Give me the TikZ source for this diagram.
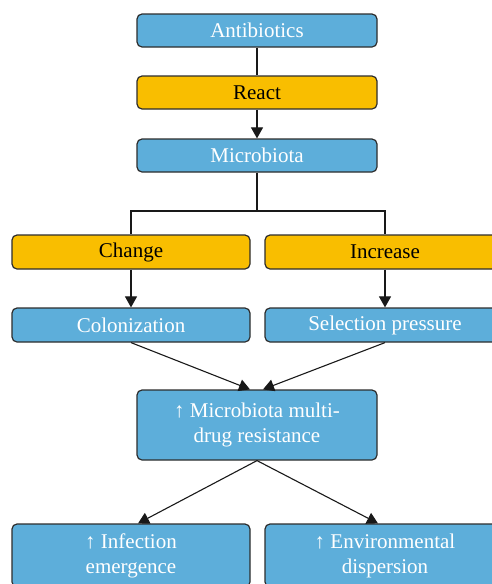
\documentclass[tikz,border=0pt]{standalone}
\usepackage{fontspec}
\setmainfont{Liberation Serif}
\usetikzlibrary{arrows.meta}
\definecolor{boxblue}{RGB}{93,174,218}
\definecolor{boxyellow}{RGB}{249,190,0}
\definecolor{edgegray}{RGB}{45,45,45}
\tikzset{
  basebox/.style={rectangle, rounded corners=5pt, draw=edgegray, line width=1.2pt,
    inner sep=0pt, align=center, font=\fontsize{21}{25}\selectfont},
  bluebox/.style={basebox, fill=boxblue, text=white},
  yellowbox/.style={basebox, fill=boxyellow, text=black},
  conn/.style={draw=black!90, line width=1.1pt},
  arr/.style={conn, -{Triangle[length=11pt,width=12pt]}}
}
\begin{document}
\begin{tikzpicture}[x=1pt,y=-1pt]
\useasboundingbox (0,0) rectangle (492,584);
\clip (0,0) rectangle (492,584);
\node[bluebox, minimum width=240pt, minimum height=33pt] (anti) at (257,30.5) {Antibiotics};
\node[yellowbox, minimum width=240pt, minimum height=33pt] (react) at (257,92.5) {React};
\node[bluebox, minimum width=240pt, minimum height=33pt] (micro) at (257,155.5) {Microbiota};
\node[yellowbox, minimum width=238pt, minimum height=34pt] (change) at (131,252) {Change};
\node[yellowbox, minimum width=240pt, minimum height=34pt] (incr) at (385,252) {Increase};
\node[bluebox, minimum width=238pt, minimum height=34pt] (colon) at (131,325) {Colonization};
\node[bluebox, minimum width=240pt, minimum height=34pt] (sel) at (385,325) {Selection pressure};
\node[bluebox, minimum width=240pt, minimum height=70pt] (mdr) at (257,425) {↑ Microbiota multi-\\drug resistance};
\node[bluebox, minimum width=238pt, minimum height=63pt] (inf) at (131,555.5) {↑ Infection\\emergence};
\node[bluebox, minimum width=240pt, minimum height=63pt] (env) at (385,555.5) {↑ Environmental\\dispersion};
\coordinate (split) at (257,211);
\draw[conn] (anti.south) -- (react.north);
\draw[arr] (react.south) -- (micro.north);
\draw[conn] (micro.south) -- (split) -| (change.north);
\draw[conn] (split) -| (incr.north);
\draw[arr] (change.south) -- (colon.north);
\draw[arr] (incr.south) -- (sel.north);
\draw[arr] (colon.south) -- ([xshift=-7pt]mdr.north);
\draw[arr] (sel.south) -- ([xshift=6pt]mdr.north);
\draw[arr] (mdr.south) -- ([xshift=7pt]inf.north);
\draw[arr] (mdr.south) -- ([xshift=-7pt]env.north);
\end{tikzpicture}
\end{document}
